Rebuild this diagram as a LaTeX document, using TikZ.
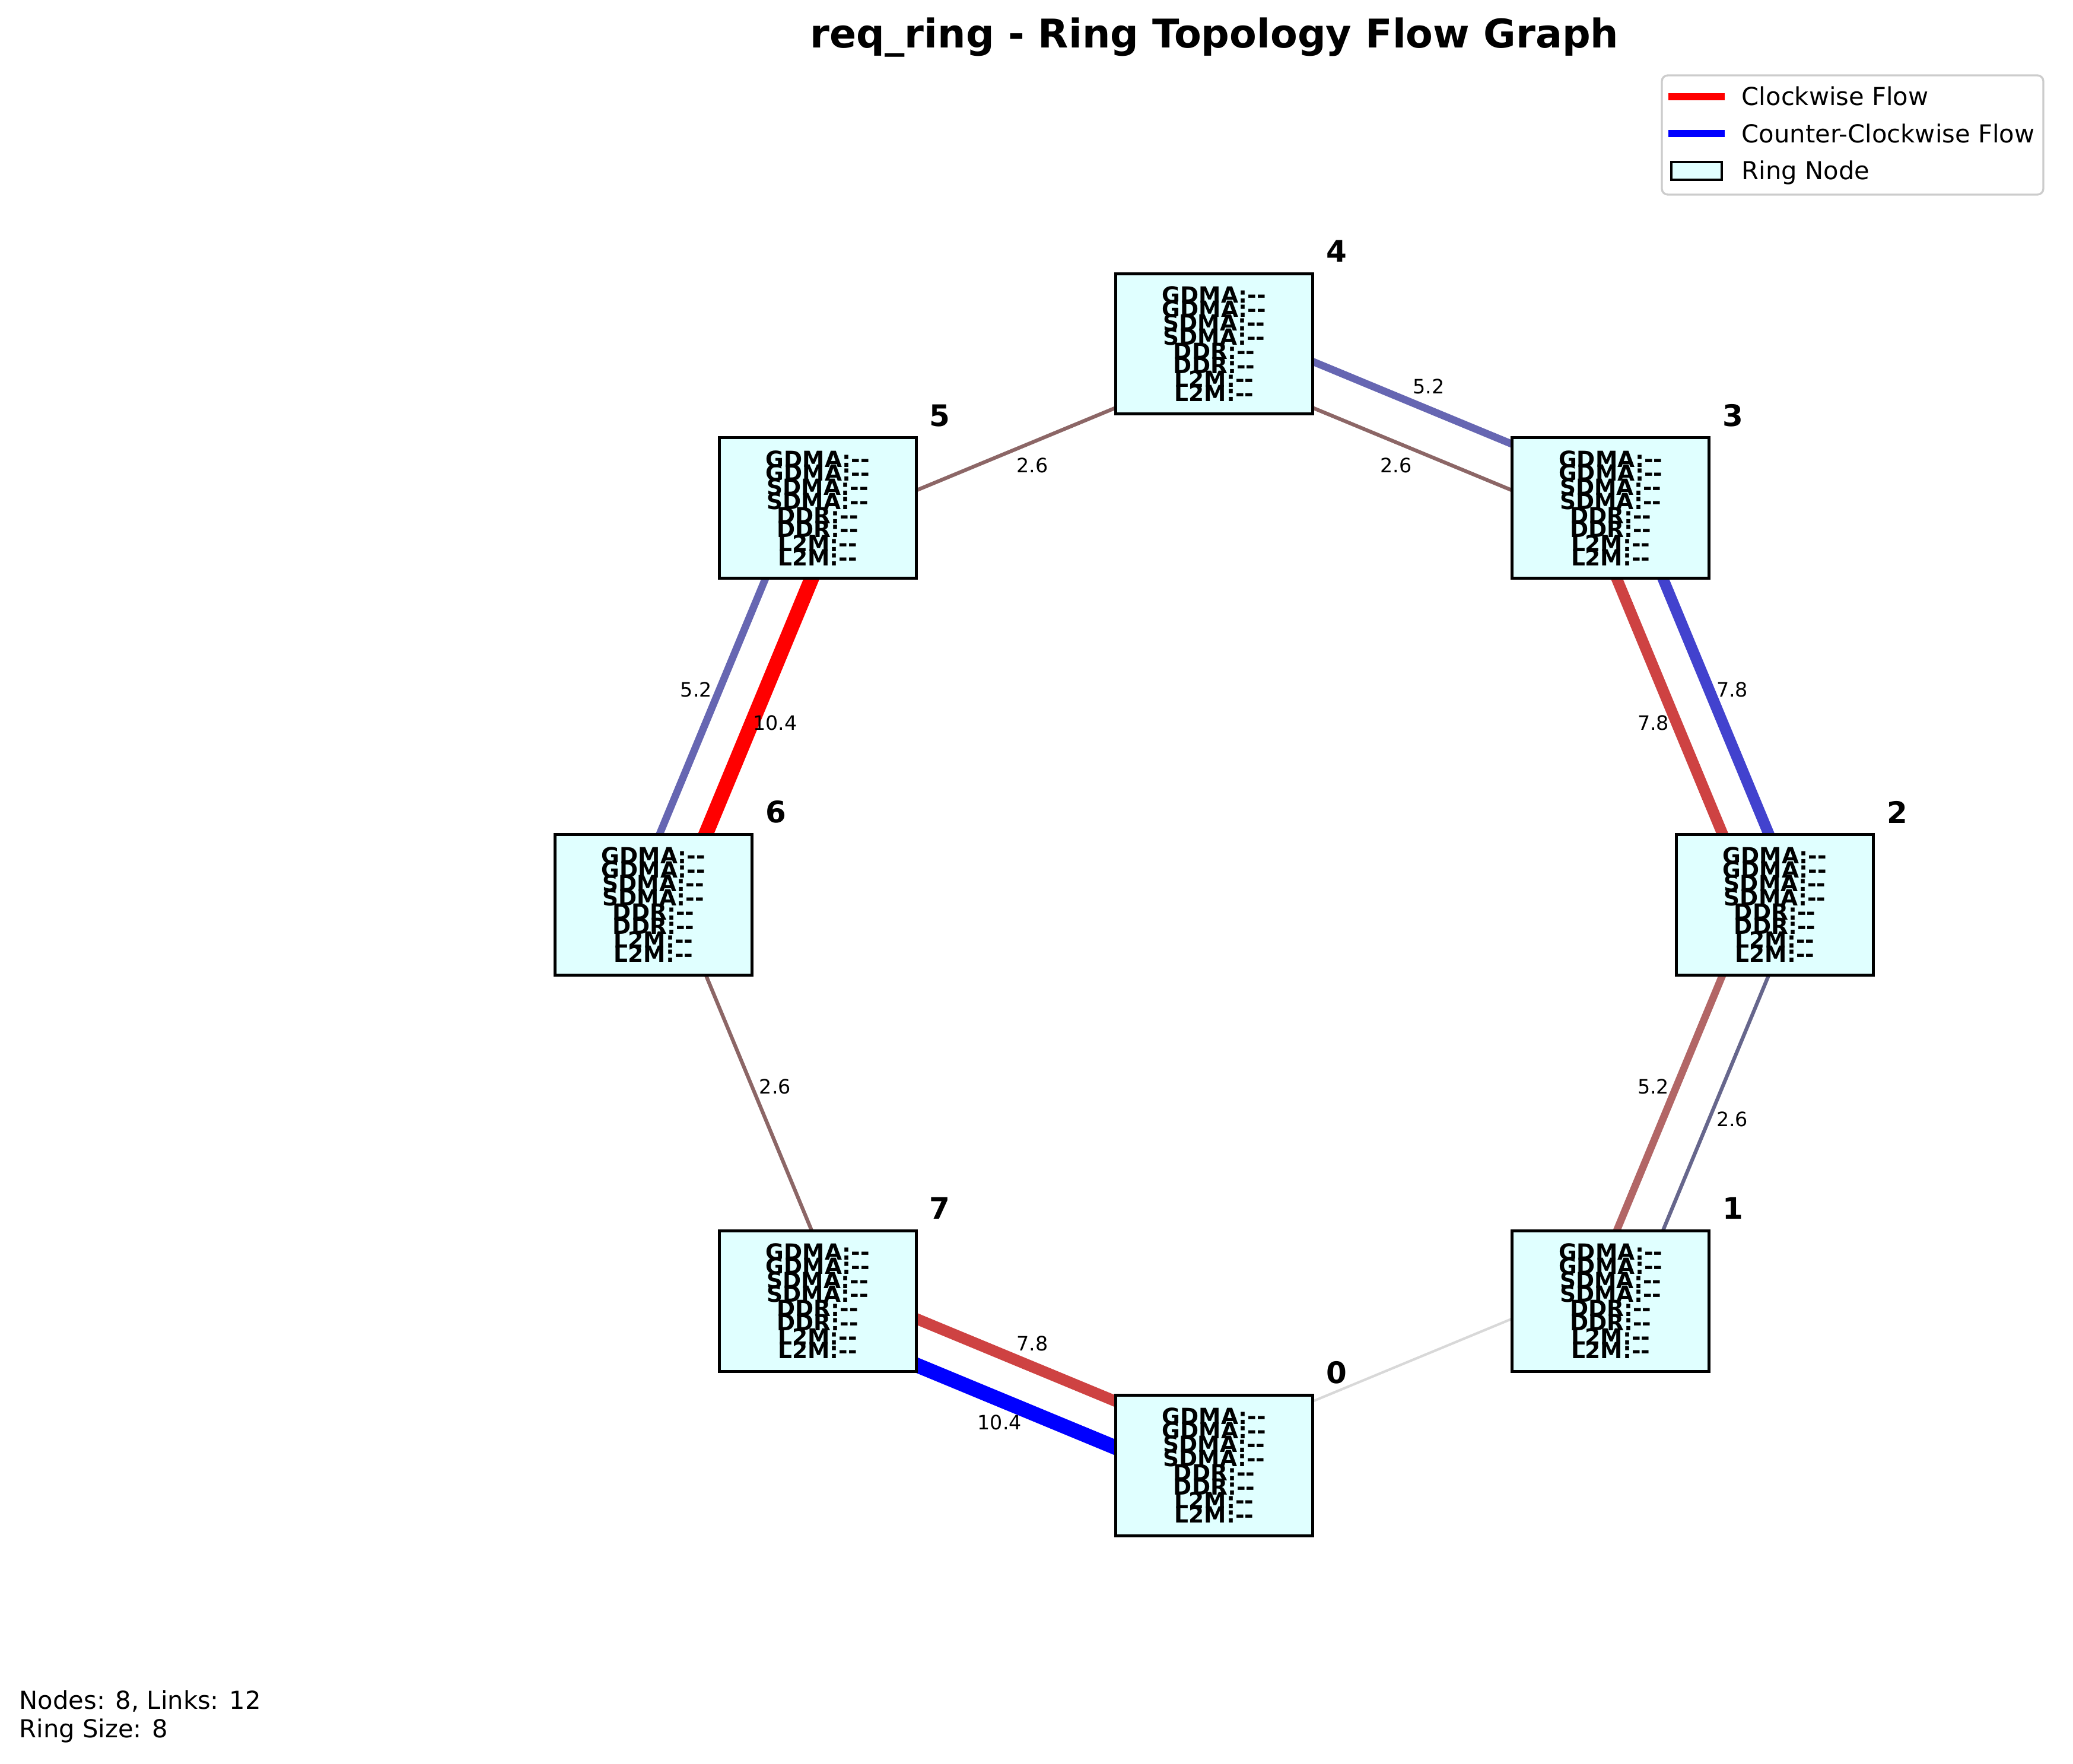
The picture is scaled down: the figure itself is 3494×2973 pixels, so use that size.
\documentclass[tikz,border=0pt]{standalone}
\usepackage{fontspec}
\newfontfamily\dvs{DejaVu Sans}
\usetikzlibrary{calc}
\pgfdeclarelayer{bg}
\pgfsetlayers{bg,main}
\definecolor{ncyan}{RGB}{224,255,255}
\definecolor{cwA}{RGB}{255,0,0}
\definecolor{cwB}{RGB}{206,66,66}
\definecolor{cwC}{RGB}{178,102,102}
\definecolor{cwD}{RGB}{140,102,102}
\definecolor{ccA}{RGB}{0,0,255}
\definecolor{ccB}{RGB}{66,66,206}
\definecolor{ccC}{RGB}{102,102,178}
\definecolor{ccD}{RGB}{102,102,140}
\definecolor{zeroflow}{RGB}{216,216,216}
\definecolor{legframe}{RGB}{204,204,204}
\newcommand\ringfont{\dvs\bfseries\fontsize{9pt}{5.7pt}\selectfont}
\newcommand\boxtext{\vbox{\lineskiplimit=-100pt\relax\lineskip=0pt\relax\baselineskip=5.7pt\relax
  \halign{\hfil##\hfil\cr GDMA:--\cr GDMA:--\cr SDMA:--\cr SDMA:--\cr DDR:--\cr DDR:--\cr L2M:--\cr L2M:--\cr}}}
\tikzset{
  ringnode/.style={draw=black, line width=1.2pt, fill=ncyan, minimum width=79.68pt,
    minimum height=56.88pt, inner sep=0pt, font=\ringfont},
  numlabel/.style={inner sep=0pt, font=\dvs\bfseries\fontsize{12pt}{14pt}\selectfont},
  elabel/.style={inner sep=0pt, font=\dvs\fontsize{8pt}{9.6pt}\selectfont},
  legtext/.style={inner sep=0pt, anchor=base west, font=\dvs\fontsize{10pt}{12pt}\selectfont},
}
\newcommand\outerlink[6]{%
  \begin{pgfonlayer}{bg}
  \draw[line width=#4, draw=#3] ($(#1)!8.64pt!90:(#2)$) -- ($(#2)!8.64pt!-90:(#1)$);
  \end{pgfonlayer}
  \node[elabel] (#5) at ($($(#1)!0.5!(#2)$)!17.28pt!90:(#2)$) {#6};
}
\newcommand\innerlink[6]{%
  \begin{pgfonlayer}{bg}
  \draw[line width=#4, draw=#3] ($(#1)!8.64pt!-90:(#2)$) -- ($(#2)!8.64pt!90:(#1)$);
  \end{pgfonlayer}
  \node[elabel] (#5) at ($($(#1)!0.5!(#2)$)!17.28pt!-90:(#2)$) {#6};
}
\begin{document}
\begin{tikzpicture}[x=0.24pt, y=-0.24pt]
\useasboundingbox (0,0) rectangle (3494,2973);
% title
\node[inner sep=0pt, anchor=base, font=\dvs\bfseries\fontsize{16pt}{19pt}\selectfont] (title) at (2047,81) {req\_ring - Ring Topology Flow Graph};
% ring nodes
\node[ringnode] (n0) at (2046.5,2469.5) {\boxtext};
\node[ringnode] (n1) at (2714.7,2192.7) {\boxtext};
\node[ringnode] (n2) at (2991.5,1524.5) {\boxtext};
\node[ringnode] (n3) at (2714.7,856.3) {\boxtext};
\node[ringnode] (n4) at (2046.5,579.5) {\boxtext};
\node[ringnode] (n5) at (1378.3,856.3) {\boxtext};
\node[ringnode] (n6) at (1101.5,1524.5) {\boxtext};
\node[ringnode] (n7) at (1378.3,2192.7) {\boxtext};
% node numbers
\foreach \i in {0,...,7}{
  \node[numlabel] (t\i) at ($(n\i)+(206,-156)$) {\i};
}
% links (clockwise order a -> b); outer = counter-clockwise flow, inner = clockwise flow
\outerlink{n4}{n3}{ccC}{3pt}{l43o}{5.2}
\innerlink{n4}{n3}{cwD}{1.5pt}{l43i}{2.6}
\outerlink{n3}{n2}{ccB}{4.5pt}{l32o}{7.8}
\innerlink{n3}{n2}{cwB}{4.5pt}{l32i}{7.8}
\outerlink{n2}{n1}{ccD}{1.5pt}{l21o}{2.6}
\innerlink{n2}{n1}{cwC}{3pt}{l21i}{5.2}
\begin{pgfonlayer}{bg}
\draw[line width=1pt, draw=zeroflow] ($(n1)!8.64pt!-90:(n0)$) -- ($(n0)!8.64pt!90:(n1)$);
\end{pgfonlayer}
\outerlink{n0}{n7}{ccA}{6pt}{l07o}{10.4}
\innerlink{n0}{n7}{cwB}{4.5pt}{l07i}{7.8}
\innerlink{n7}{n6}{cwD}{1.5pt}{l76i}{2.6}
\outerlink{n6}{n5}{ccC}{3pt}{l65o}{5.2}
\innerlink{n6}{n5}{cwA}{6pt}{l65i}{10.4}
\innerlink{n5}{n4}{cwD}{1.5pt}{l54i}{2.6}
% legend
\draw[draw=legframe, fill=white, line width=0.8pt, rounded corners=2.4pt] (2801,127) rectangle (3444,328);
\draw[draw=cwA, line width=3pt] (2812,163) -- (2907,163);
\draw[draw=ccA, line width=3pt] (2812,225) -- (2907,225);
\draw[draw=black, fill=ncyan, line width=0.8pt] (2817,273) rectangle (2902,303);
\node[legtext] (lg1) at (2935,178) {Clockwise Flow};
\node[legtext] (lg2) at (2935,241) {Counter-Clockwise Flow};
\node[legtext] (lg3) at (2935,303) {Ring Node};
% info
\node[legtext] (info1) at (32,2880) {Nodes: 8, Links: 12};
\node[legtext] (info2) at (32,2928) {Ring Size: 8};
\end{tikzpicture}
\end{document}
